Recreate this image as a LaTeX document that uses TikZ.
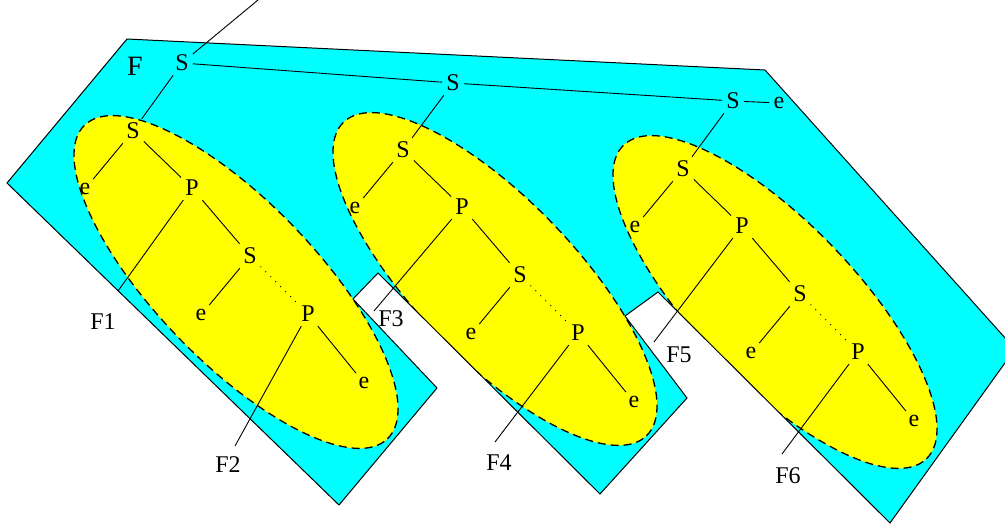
\documentclass[tikz,border=0pt]{standalone}
\usepackage{fontspec}
\setmainfont{Liberation Serif}
\definecolor{aquafill}{RGB}{0,255,255}
\definecolor{yellowfill}{RGB}{255,255,0}
\begin{document}
\begin{tikzpicture}[x=1pt,y=-1pt,
  lbl/.style={inner sep=4pt, font=\fontsize{24}{28}\selectfont},
  biglbl/.style={inner sep=4pt, font=\fontsize{28}{32}\selectfont},
  edge/.style={line width=0.9pt},
  dotline/.style={line width=1.4pt, line cap=round, dash pattern=on 0pt off 7pt},
  ellshape/.style={x radius=218pt, y radius=80pt, rotate=-46},
  ellborder/.style={line width=1.3pt, dash pattern=on 8pt off 5pt},
  polyborder/.style={line width=1pt, line join=miter},
]
\path[use as bounding box, clip] (0,0) rectangle (1005,525);

% polygon vertices
\coordinate (v1) at (7,183);
\coordinate (v2) at (127,39);
\coordinate (v3) at (765,70);
\coordinate (v4) at (1015,349);
\coordinate (v5) at (890,523);
\coordinate (v6) at (658,292);
\coordinate (v7) at (625,316);
\coordinate (v8) at (687,398);
\coordinate (v9) at (600,494);
\coordinate (v10) at (378,273);
\coordinate (v11) at (353,299);
\coordinate (v12) at (437,388);
\coordinate (v13) at (339,505);

\fill[aquafill] (v1) -- (v2) -- (v3) -- (v4) -- (v5) -- (v6) -- (v7) -- (v8) -- (v9) -- (v10) -- (v11) -- (v12) -- (v13) -- cycle;

\begin{scope}
  \clip (v1) -- (v2) -- (v3) -- (v4) -- (v5) -- (v6) -- (v7) -- (v8) -- (v9) -- (v10) -- (v11) -- (v12) -- (v13) -- cycle;
  \fill[yellowfill] (236,282) circle[ellshape];
  \fill[yellowfill] (495,279) circle[ellshape];
  \fill[yellowfill] (775,302) circle[ellshape];
  \draw[ellborder] (236,282) circle[ellshape];
  \draw[ellborder] (495,279) circle[ellshape];
  \draw[ellborder] (775,302) circle[ellshape];
\end{scope}

\draw[polyborder] (v1) -- (v2) -- (v3) -- (v4) -- (v5) -- (v6) -- (v7) -- (v8) -- (v9) -- (v10) -- (v11) -- (v12) -- (v13) -- cycle;

% three subtrees
\foreach \dx/\dy/\n in {0/0/a, 270/19/b, 550/38/c} {
  \begin{scope}[shift={(\dx,\dy)}]
    \node[lbl] (\n-S1) at (133,131) {S};
    \node[lbl] (\n-e1) at (85,189) {e};
    \node[lbl] (\n-P1) at (192,188) {P};
    \node[lbl] (\n-S2) at (250,256) {S};
    \node[lbl] (\n-e2) at (201,315) {e};
    \node[lbl] (\n-P2) at (308,314) {P};
    \node[lbl] (\n-e3) at (364,383) {e};
    \draw[edge] (\n-S1) -- (\n-e1);
    \draw[edge] (\n-S1) -- (\n-P1);
    \draw[edge] (\n-P1) -- (\n-S2);
    \draw[edge] (\n-S2) -- (\n-e2);
    \draw[dotline] (\n-S2) -- (\n-P2);
    \draw[edge] (\n-P2) -- (\n-e3);
  \end{scope}
}

% F labels
\node[lbl] (F1) at (103,322) {F1};
\node[lbl] (F2) at (228,465) {F2};
\node[lbl] (F3) at (391,319) {F3};
\node[lbl] (F4) at (499,463) {F4};
\node[lbl] (F5) at (679,355) {F5};
\node[lbl] (F6) at (788,476) {F6};
\coordinate (f1) at (118,291);
\coordinate (f2) at (235,446);
\coordinate (f3) at (374,311);
\coordinate (f4) at (495,442);
\coordinate (f5) at (654,342);
\coordinate (f6) at (782,454);
\draw[edge] (a-P1) -- (f1);
\draw[edge] (a-P2) -- (f2);
\draw[edge] (b-P1) -- (f3);
\draw[edge] (b-P2) -- (f4);
\draw[edge] (c-P1) -- (f5);
\draw[edge] (c-P2) -- (f6);

% top level
\node[biglbl] (F) at (135,66) {F};
\node[lbl] (T1) at (182,63) {S};
\node[lbl] (T2) at (453,83) {S};
\node[lbl] (T3) at (733,101) {S};
\node[lbl] (T4) at (779,103) {e};
\coordinate (up) at (258,0);
\draw[edge] (T1) -- (up);
\draw[edge] (T1) -- (T2);
\draw[edge] (T2) -- (T3);
\draw[edge] (T3) -- (T4);
\draw[edge] (T1) -- (a-S1);
\draw[edge] (T2) -- (b-S1);
\draw[edge] (T3) -- (c-S1);
\end{tikzpicture}
\end{document}
